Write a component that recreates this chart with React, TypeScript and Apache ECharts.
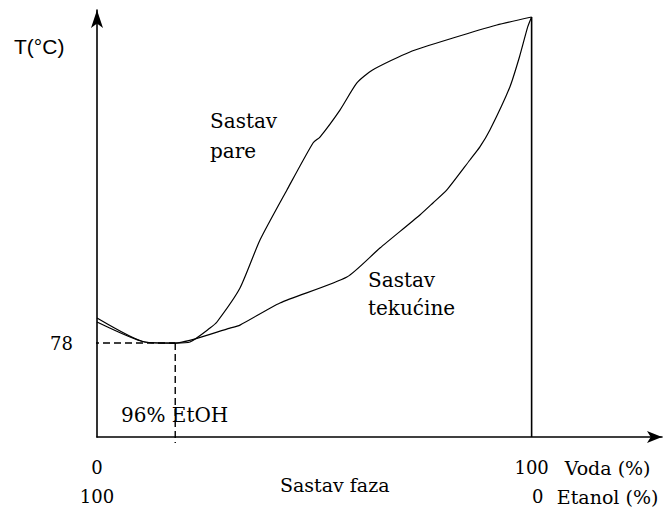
import React, { useEffect, useRef } from "react";
import * as echarts from "echarts";

// Water share (%) on x, temperature (°C) on y — schematic values
const vaporCurve: [number, number][] = [
  [0, 79.69], [11.0, 78.07], [18, 78], [21.4, 78.07], [26.0, 79.01], [27.6, 79.42],
  [32.9, 81.71], [37.5, 84.95], [43.7, 88.33], [49.7, 91.5], [51.3, 91.9],
  [55.9, 93.72], [59.8, 95.55], [63.4, 96.42], [72.0, 97.64], [81.9, 98.58],
  [92.0, 99.46], [100, 100],
];
const liquidCurve: [number, number][] = [
  [0, 79.42], [11.0, 78.07], [18, 78], [30.6, 79.01], [32.9, 79.21], [42.1, 80.7],
  [57.5, 82.45], [65.1, 84.41], [74.3, 86.64], [77.3, 87.45], [80.5, 88.33],
  [85.8, 90.35], [88.1, 91.23], [90.4, 92.37], [95.0, 95.28], [97.2, 97.3],
  [99.1, 99.33], [100, 100],
];
const azeotrope: [number, number] = [18, 78];
const waterBoiling: [number, number] = [100, 100];
const xTicks = [0, 100];
const yTicks = [78];

const X_MIN = 0;
const X_MAX = 130;
const Y_MIN = 71.66;
const Y_MAX = 100.47;

const SERIF = "DejaVu Serif";

export default function App() {
  const ref = useRef<HTMLDivElement>(null);
  useEffect(() => {
    if (!ref.current) return;
    const chart = echarts.init(ref.current, undefined, { renderer: "svg" });
    const dashStyle = { color: "#000", width: 1.4, type: [7, 4] as any };
    chart.setOption({
      animation: false,
      backgroundColor: "#fff",
      grid: { left: 97, right: 2, top: 10, bottom: 71, containLabel: false, outerBoundsMode: "none" },
      xAxis: {
        type: "value",
        min: X_MIN,
        max: X_MAX,
        splitLine: { show: false },
        axisTick: { show: false },
        axisLine: {
          lineStyle: { color: "#000", width: 1.6 },
          symbol: ["none", "arrow"],
          symbolSize: [9, 15],
        },
        axisLabel: {
          customValues: xTicks,
          margin: 16,
          color: "#000",
          fontFamily: SERIF,
          formatter: (v: number) =>
            v === xTicks[0]
              ? "{n|" + xTicks[0] + "}\n{n|" + xTicks[1] + "}"
              : "{sp|}{n|" + xTicks[1] + "}{u1|Voda (%)}\n{sp|}{n2|" + xTicks[0] + "}{u2|Etanol (%)}",
          rich: {
            n: { fontFamily: SERIF, fontSize: 18, color: "#000", width: 40, align: "center", lineHeight: 29 },
            n2: { fontFamily: SERIF, fontSize: 18, color: "#000", width: 40, align: "center", lineHeight: 29, padding: [0, 0, 0, 6] },
            sp: { width: 106, lineHeight: 29 },
            u1: { fontFamily: SERIF, fontSize: 19, color: "#000", width: 100, align: "left", padding: [0, 0, 0, 6], lineHeight: 29 },
            u2: { fontFamily: SERIF, fontSize: 19, color: "#000", width: 100, align: "left", padding: [0, 0, 0, 0], lineHeight: 29 },
          },
        },
      },
      yAxis: {
        type: "value",
        min: Y_MIN,
        max: Y_MAX,
        splitLine: { show: false },
        axisTick: { show: false },
        axisLine: {
          lineStyle: { color: "#000", width: 1.6 },
          symbol: ["none", "arrow"],
          symbolSize: [9, 18],
        },
        axisLabel: {
          customValues: yTicks,
          margin: 24,
          color: "#000",
          fontFamily: SERIF,
          fontSize: 18,
        },
      },
      series: [
        {
          name: "Sastav pare",
          type: "line",
          data: vaporCurve,
          showSymbol: false,
          smooth: 0.2,
          lineStyle: { color: "#000", width: 1.2 },
          z: 3,
        },
        {
          name: "Sastav tekućine",
          type: "line",
          data: liquidCurve,
          showSymbol: false,
          smooth: 0.2,
          lineStyle: { color: "#000", width: 1.2 },
          z: 3,
        },
        {
          name: "azeotrop-h",
          type: "line",
          data: [[X_MIN - 1.15, azeotrope[1]], azeotrope],
          showSymbol: false,
          clip: false,
          lineStyle: dashStyle,
        },
        {
          name: "azeotrop-v",
          type: "line",
          data: [azeotrope, [azeotrope[0], Y_MIN - 0.4]],
          showSymbol: false,
          clip: false,
          lineStyle: dashStyle,
        },
        {
          name: "voda",
          type: "line",
          data: [[waterBoiling[0], Y_MIN], waterBoiling],
          showSymbol: false,
          lineStyle: { color: "#000", width: 1.6 },
        },
      ],
      graphic: [
        {
          type: "text",
          left: 14,
          top: 36,
          style: { text: "T(°C)", fontFamily: "Liberation Sans", fontSize: 21, fill: "#000" },
        },
        {
          type: "text",
          left: 210,
          top: 106,
          style: { text: "Sastav\npare", fontFamily: SERIF, fontSize: 20, lineHeight: 30, fill: "#000" },
        },
        {
          type: "text",
          left: 368,
          top: 266,
          style: { text: "Sastav\ntekućine", fontFamily: SERIF, fontSize: 20, lineHeight: 28, fill: "#000" },
        },
        {
          type: "text",
          left: 121,
          top: 405,
          style: { text: "96% EtOH", fontFamily: SERIF, fontSize: 20, fill: "#000" },
        },
        {
          type: "text",
          left: 280,
          top: 475,
          style: { text: "Sastav faza", fontFamily: SERIF, fontSize: 19, fill: "#000" },
        },
      ],
    });
    return () => chart.dispose();
  }, []);
  return (
    <div
      ref={ref}
      style={{ position: "fixed", left: 0, top: 0, width: 664, height: 508, background: "#fff" }}
    />
  );
}
